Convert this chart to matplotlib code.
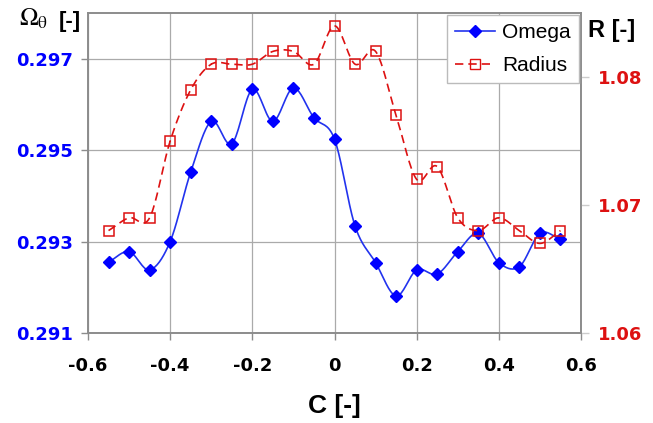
import numpy as np
import matplotlib
matplotlib.use('Agg')
import matplotlib.pyplot as plt

plt.rcParams['font.family'] = ['Liberation Sans', 'DejaVu Sans']
plt.rcParams['mathtext.fontset'] = 'stix'

# data
c = [-0.55, -0.5, -0.45, -0.4, -0.35, -0.3, -0.25, -0.2, -0.15, -0.1, -0.05, 0.0,
     0.05, 0.1, 0.15, 0.2, 0.25, 0.3, 0.35, 0.4, 0.45, 0.5, 0.55]
omega = [0.29255, 0.29278, 0.29238, 0.29300, 0.29452, 0.29563, 0.29514, 0.29633,
         0.29563, 0.29636, 0.29571, 0.29524, 0.29334, 0.29254, 0.29181, 0.29238,
         0.29229, 0.29278, 0.29318, 0.29254, 0.29245, 0.29318, 0.29305]
radius = [1.0680, 1.0690, 1.0690, 1.0750, 1.0790, 1.0810, 1.0810, 1.0810, 1.0820,
          1.0820, 1.0810, 1.0840, 1.0810, 1.0820, 1.0770, 1.0720, 1.0730, 1.0690,
          1.0680, 1.0690, 1.0680, 1.0670, 1.0680]
xticks = [-0.6, -0.4, -0.2, 0, 0.2, 0.4, 0.6]
xticklabels = ['-0.6', '-0.4', '-0.2', '0', '0.2', '0.4', '0.6']
omega_ticks = [0.291, 0.293, 0.295, 0.297]
radius_ticks = [1.06, 1.07, 1.08]


def smooth(x, y, n=20):
    # catmull-rom curve through the points (like a spreadsheet smoothed line)
    x = np.asarray(x, float)
    y = np.asarray(y, float)
    px = np.concatenate([[2 * x[0] - x[1]], x, [2 * x[-1] - x[-2]]])
    py = np.concatenate([[2 * y[0] - y[1]], y, [2 * y[-1] - y[-2]]])
    t = np.linspace(0, 1, n)[:, None]
    xs, ys = [], []
    for i in range(1, len(px) - 2):
        for p, out in ((px, xs), (py, ys)):
            p0, p1, p2, p3 = p[i - 1], p[i], p[i + 1], p[i + 2]
            seg = 0.5 * ((2 * p1) + (-p0 + p2) * t + (2 * p0 - 5 * p1 + 4 * p2 - p3) * t ** 2
                         + (-p0 + 3 * p1 - 3 * p2 + p3) * t ** 3)
            out.append(seg.ravel())
    return np.concatenate(xs), np.concatenate(ys)


blue = '#0000ff'
red = '#dd1111'
grey = '#8c8c8c'
tickfont = dict(fontsize=13, fontweight='bold', family='DejaVu Sans')

fig = plt.figure(figsize=(6.53, 4.23), dpi=100)
ax = fig.add_axes([88 / 653, 1 - 333 / 423, (581 - 88) / 653, (333 - 13) / 423])
ax2 = ax.twinx()

sx, sy = smooth(c, omega)
ax.plot(sx, sy, color='#2233ee', lw=1.2)
ax.plot(c, omega, ls='none', marker='D', ms=6.5, color=blue)
rx, ry = smooth(c, radius)
ax2.plot(rx, ry, color=red, lw=1.2, ls=(0, (5, 3)))
ax2.plot(c, radius, ls='none', marker='s', ms=7.5, mfc='none', mec=red, mew=1.1)

ax.set_xlim(-0.6, 0.6)
ax.set_ylim(0.291, 0.298)
ax2.set_ylim(1.06, 1.085)
ax.set_xticks(xticks)
ax.set_xticklabels(xticklabels, **tickfont)
ax.set_yticks(omega_ticks)
ax.set_yticklabels(['%.3f' % v for v in omega_ticks], color=blue, **tickfont)
ax2.set_yticks(radius_ticks)
ax2.set_yticklabels(['%.2f' % v for v in radius_ticks], color=red, **tickfont)

ax.grid(True, color='#aaaaaa', lw=0.9)
for a in (ax, ax2):
    for s in a.spines.values():
        s.set_color(grey)
        s.set_linewidth(1.2)
ax.tick_params(axis='y', color=grey, length=5, width=1, pad=6)
ax.tick_params(axis='x', color=grey, length=5, width=1, pad=12)
ax2.tick_params(axis='y', color='#cccccc', length=6, width=1, pad=6)

ax.set_xlabel('C [-]', fontsize=19, fontweight='bold', labelpad=14)
# left axis title: serif Omega with subscript theta, then bold [-]
fig.text(19 / 653, 1 - 26 / 423, r'$\Omega_{\mathrm{\theta}}$', fontsize=18,
         ha='left', va='baseline')
fig.text(59 / 653, 1 - 27 / 423, '[-]', fontsize=16, fontweight='bold',
         ha='left', va='baseline')
fig.text(0.937, 0.929, 'R [-]', fontsize=17, fontweight='bold', ha='center', va='center')

h1 = plt.Line2D([], [], color='#2233ee', lw=1.2, marker='D', ms=6.5, mfc=blue, mec=blue)
h2 = plt.Line2D([], [], color=red, lw=1.2, ls=(0, (5, 3)), marker='s', ms=7.5, mfc='none', mec=red)
leg = ax2.legend([h1, h2], ['Omega', 'Radius'], loc='upper right', fontsize=15,
                 fancybox=False, framealpha=1, edgecolor='#bbbbbb', borderaxespad=0.1,
                 handlelength=1.9, handletextpad=0.35, borderpad=0.4, labelspacing=0.65)
leg.get_frame().set_linewidth(1.0)

fig.savefig('out.png', dpi=100)
